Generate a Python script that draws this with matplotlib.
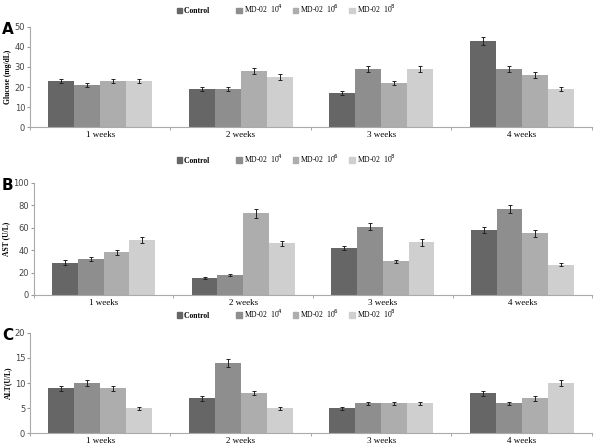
import numpy as np
import matplotlib
matplotlib.use("Agg")
import matplotlib.pyplot as plt
from matplotlib.patches import Patch

weeks = ["1 weeks", "2 weeks", "3 weeks", "4 weeks"]
groups = ["Control" + " " * 9, "MD-02  10$^{4}$", "MD-02  10$^{6}$", "MD-02  10$^{8}$"]
colors = ["#666666", "#8e8e8e", "#adadad", "#cfcfcf"]

glucose = [[23, 19, 17, 43], [21, 19, 29, 29], [23, 28, 22, 26], [23, 25, 29, 19]]
glucose_err = [[1.2, 1.2, 1.0, 2.0], [1.2, 1.2, 1.5, 1.5], [1.2, 1.3, 1.2, 1.3], [1.2, 1.5, 1.5, 1.0]]

ast = [[29, 15, 42, 58], [32, 18, 61, 77], [38, 73, 30, 55], [49, 46, 47, 27]]
ast_err = [[2, 1, 2, 3], [2, 1, 3, 3.5], [2.5, 4, 1.5, 3], [3, 2.5, 3, 1.5]]

alt = [[9, 7, 5, 8], [10, 14, 6, 6], [9, 8, 6, 7], [5, 5, 6, 10]]
alt_err = [[0.5, 0.5, 0.3, 0.5], [0.6, 0.8, 0.3, 0.3], [0.5, 0.4, 0.3, 0.5], [0.3, 0.3, 0.3, 0.6]]

panels = [
    ("A", "Glucose (mg/dL)", glucose, glucose_err, 50, 10, [0.0505, 0.7152, 0.946, 0.2243], 0.980),
    ("B", "AST (U/L)", ast, ast_err, 100, 20, [0.057, 0.3386, 0.940, 0.2511], 0.645),
    ("C", "ALT(U/L)", alt, alt_err, 20, 5, [0.0505, 0.0291, 0.946, 0.2243], 0.297),
]

fig = plt.figure(figsize=(5.94, 4.46), dpi=100)
x = np.arange(len(weeks))
width = 0.185

for letter, ylabel, vals, errs, ymax, step, rect, leg_y in panels:
    ax = fig.add_axes(rect)
    for i, (v, e) in enumerate(zip(vals, errs)):
        ax.bar(x + (i - 1.5) * width, v, width, color=colors[i],
               yerr=e, capsize=1.5, error_kw=dict(elinewidth=0.7, capthick=0.7, ecolor="#222222"))
    ax.set_xlim(-0.5, 3.5)
    ax.set_ylim(0, ymax)
    ax.set_yticks(np.arange(0, ymax + 1, step))
    ax.set_xticks(x)
    ax.set_xticklabels(weeks, family="Liberation Serif", fontsize=6.5)
    ax.set_xticks(np.arange(-0.5, 4.0, 1.0), minor=True)
    ax.tick_params(axis="x", which="major", length=0, pad=3)
    ax.tick_params(axis="x", which="minor", length=2.5, color="#999999")
    ax.tick_params(axis="y", length=2, color="#999999", labelsize=6, labelcolor="#444444", pad=1.5)
    for s in ["top", "right"]:
        ax.spines[s].set_visible(False)
    for s in ["left", "bottom"]:
        ax.spines[s].set_color("#aaaaaa")
        ax.spines[s].set_linewidth(0.8)
    ax.set_ylabel(ylabel, family="Liberation Serif", fontweight="bold", fontsize=5.5, labelpad=2)
    fig.text(0.003, rect[1] + rect[3] - 0.005, letter, fontsize=11, fontweight="bold", va="center")

    handles = [Patch(color=c) for c in colors]
    leg = fig.legend(handles, groups, loc="center", bbox_to_anchor=(0.482, leg_y), ncol=4,
                     frameon=False, handlelength=0.7, handleheight=0.7, handletextpad=0.3,
                     columnspacing=1.3, prop=dict(family="Liberation Serif", size=5.5))
    leg.get_texts()[0].set_fontweight("bold")

fig.savefig("out.png", dpi=100)
